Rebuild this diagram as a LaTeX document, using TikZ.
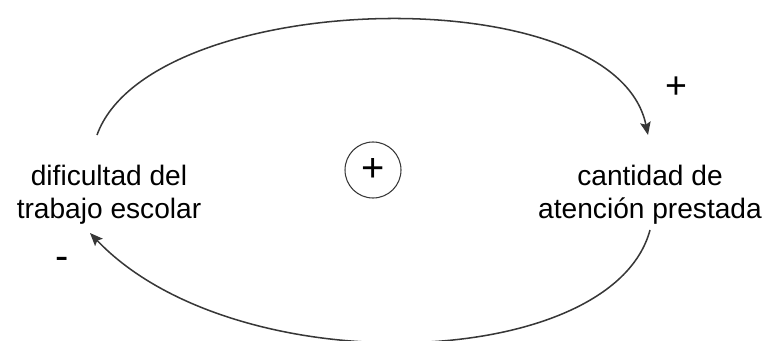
\documentclass[tikz,border=0pt]{standalone}
\usepackage{fontspec}
\setmainfont{Liberation Sans}
\usetikzlibrary{arrows.meta,calc}
\definecolor{cline}{RGB}{55,55,55}
\tikzset{
  loopsec/.style={x=0.03cm,y=-0.03cm},
  varname/.style={align=center,inner sep=0pt,font=\fontsize{24}{28}\selectfont},
  polar/.style={inner sep=0pt,font=\fontsize{32}{32}\selectfont},
  link/.style={cline,line width=1.3pt,-{Stealth[length=11pt,width=9pt,inset=2pt]}},
}

\begin{document}
\begin{tikzpicture}[loopsec]
  \useasboundingbox (0,0) rectangle (768,340);
  \node[varname] (dif)  at (109,195) {dificultad del\\trabajo escolar};
  \node[varname] (aten) at (650,195) {cantidad de\\atención prestada};
  \node[circle,draw=cline,line width=0.9pt,minimum size=1.68cm,inner sep=0pt,
        font=\fontsize{34}{34}\selectfont] (loop) at (373,170) {+};   % loop polarity
  \draw[link] ($(dif)+(-12,-60)$) .. controls +(53,-147) and +(-33,-160) .. ($(aten)+(-2,-60)$);
  \draw[link] ($(aten)+(0,35)$) .. controls +(-38,142) and +(145,152) .. ($(dif)+(-19,38)$);
  \node[polar] (pplus) at (676,88) {+};
  \node[polar,font=\fontsize{34}{34}\selectfont] (pminus) at (62,263) {-};
\end{tikzpicture}
\end{document}
